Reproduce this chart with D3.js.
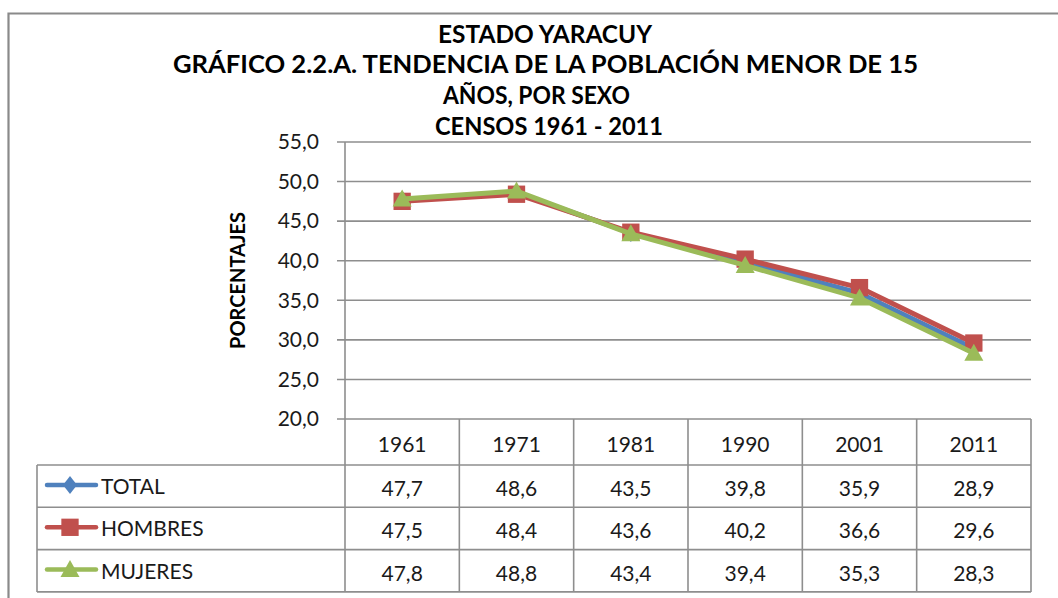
<!DOCTYPE html>
<html>
<head>
<meta charset="utf-8">
<script src="https://cdn.jsdelivr.net/npm/d3@7"></script>
<style>
  body { margin: 0; background: #fff; }
  svg { display: block; font-family: Lato, "Open Sans", sans-serif; }
</style>
</head>
<body>
<svg id="chart" width="1058" height="598"></svg>
<script>
var years = ['1961', '1971', '1981', '1990', '2001', '2011'];
var total = [47.7, 48.6, 43.5, 39.8, 35.9, 28.9];
var hombres = [47.5, 48.4, 43.6, 40.2, 36.6, 29.6];
var mujeres = [47.8, 48.8, 43.4, 39.4, 35.3, 28.3];
var yTicks = [20, 25, 30, 35, 40, 45, 50, 55];
var titleLines = ['ESTADO YARACUY', 'GRÁFICO 2.2.A. TENDENCIA  DE LA POBLACIÓN MENOR DE 15', 'AÑOS, POR SEXO', 'CENSOS 1961  - 2011'];

var series = [
	{ name: 'TOTAL', values: total, color: '#4F81BD', marker: 'diamond' },
	{ name: 'HOMBRES', values: hombres, color: '#C0504D', marker: 'square' },
	{ name: 'MUJERES', values: mujeres, color: '#9BBB59', marker: 'triangle' },
];

var locale = d3.formatLocale({ decimal: ',', thousands: '.', grouping: [3], currency: ['', ''] });
var fmt = locale.format('.1f');

var svg = d3.select('#chart');
var gridColor = '#8e8e8e';
var textColor = '#1a1a1a';

var plotLeft = 345, plotRight = 1031, plotTop = 142, plotBottom = 419;
var tableLeft = 37, rowH = 42.3, headerH = 46;
var tableBottom = plotBottom + headerH + rowH * 3;

var x = d3.scaleBand().domain(years).range([plotLeft, plotRight]);
var y = d3.scaleLinear().domain([20, 55]).range([plotBottom, plotTop]);
var cx = (d) => x(d) + x.bandwidth() / 2;

// outer frame
svg.append('path')
	.attr('d', 'M8.5,600 V13.5 H1060')
	.attr('fill', 'none')
	.attr('stroke', '#8a8a8a')
	.attr('stroke-width', 2.2);

var titlePos = [
	{ x: 438, w: 214, y: 43 },
	{ x: 173, w: 745, y: 73 },
	{ x: 443, w: 187, y: 104 },
	{ x: 435, w: 228, y: 135 },
];
svg.append('g').selectAll('text')
	.data(titleLines)
	.join('text')
	.attr('x', (d, i) => titlePos[i].x)
	.attr('y', (d, i) => titlePos[i].y)
	.attr('textLength', (d, i) => titlePos[i].w)
	.attr('lengthAdjust', 'spacingAndGlyphs')
	.style('font-weight', 'bold')
	.style('font-size', '25px')
	.attr('fill', '#000')
	.text(d => d);

// gridlines
svg.append('g').selectAll('line')
	.data(yTicks)
	.join('line')
	.attr('x1', plotLeft - 8)
	.attr('x2', plotRight)
	.attr('y1', d => y(d))
	.attr('y2', d => y(d))
	.attr('stroke', gridColor)
	.attr('stroke-width', 1.6);

// y axis labels
var yAxis = d3.axisLeft(y).tickValues(yTicks).tickFormat(fmt).tickSize(8).tickPadding(18);
svg.append('g')
	.attr('transform', 'translate(' + plotLeft + ',0)')
	.call(yAxis)
	.call(g => g.select('.domain').remove())
	.call(g => g.selectAll('.tick line').remove())
	.call(g => g.selectAll('text').style('font-size', '21px').style('font-family', 'Lato').attr('fill', textColor));

svg.append('line')
	.attr('x1', plotLeft).attr('x2', plotLeft)
	.attr('y1', plotTop).attr('y2', tableBottom)
	.attr('stroke', gridColor).attr('stroke-width', 1.6);

svg.append('text')
	.attr('transform', 'translate(245,' + ((plotTop + plotBottom) / 2) + ') rotate(-90)')
	.attr('text-anchor', 'middle')
	.style('font-weight', 'bold')
	.style('font-size', '20px')
	.attr('fill', '#000')
	.text('PORCENTAJES');

// data table
var tbl = svg.append('g');
tbl.selectAll('line.col')
	.data(years)
	.join('line')
	.attr('class', 'col')
	.attr('x1', d => x(d) + x.bandwidth())
	.attr('x2', d => x(d) + x.bandwidth())
	.attr('y1', plotBottom)
	.attr('y2', tableBottom)
	.attr('stroke', gridColor).attr('stroke-width', 1.6);
tbl.selectAll('line.row')
	.data([0, 1, 2, 3])
	.join('line')
	.attr('class', 'row')
	.attr('x1', tableLeft)
	.attr('x2', plotRight)
	.attr('y1', d => plotBottom + headerH + d * rowH)
	.attr('y2', d => plotBottom + headerH + d * rowH)
	.attr('stroke', gridColor).attr('stroke-width', 1.6);
tbl.append('line')
	.attr('x1', tableLeft).attr('x2', tableLeft)
	.attr('y1', plotBottom + headerH).attr('y2', tableBottom)
	.attr('stroke', gridColor).attr('stroke-width', 1.6);

tbl.selectAll('text.year')
	.data(years)
	.join('text')
	.attr('class', 'year')
	.attr('x', cx)
	.attr('y', plotBottom + 33)
	.attr('text-anchor', 'middle')
	.style('font-size', '21px')
	.attr('fill', textColor)
	.text(d => d);

function markerPath(type) {
	if (type === 'diamond') return 'M0,-9L7,0L0,9L-7,0Z';
	if (type === 'square') return d3.symbol(d3.symbolSquare, 300)();
	return 'M0,-9.5L9.5,7.5L-9.5,7.5Z';
}

series.forEach(function (s, si) {
	var rowY = plotBottom + headerH + si * rowH;
	var row = tbl.append('g');
	row.selectAll('text')
		.data(s.values)
		.join('text')
		.attr('x', (d, i) => cx(years[i]))
		.attr('y', rowY + 31)
		.attr('text-anchor', 'middle')
		.style('font-size', '21px')
		.attr('fill', textColor)
		.text(d => fmt(d));
	// legend key
	row.append('line')
		.attr('x1', 47).attr('x2', 96)
		.attr('y1', rowY + 20).attr('y2', rowY + 20)
		.attr('stroke', s.color).attr('stroke-width', 4.5).attr('stroke-linecap', 'round');
	row.append('path')
		.attr('d', markerPath(s.marker))
		.attr('transform', 'translate(70,' + (rowY + 20) + ')')
		.attr('fill', s.color);
	row.append('text')
		.attr('x', 101)
		.attr('y', rowY + 29)
		.style('font-size', '21px')
		.attr('fill', textColor)
		.text(s.name);
});

// series lines and markers
var line = d3.line()
	.x((d, i) => cx(years[i]))
	.y(d => y(d));

series.forEach(function (s) {
	var g = svg.append('g');
	g.append('path')
		.datum(s.values)
		.attr('d', line)
		.attr('fill', 'none')
		.attr('stroke', s.color)
		.attr('stroke-width', 5)
		.attr('stroke-linejoin', 'round');
	g.selectAll('path.mk')
		.data(s.values)
		.join('path')
		.attr('class', 'mk')
		.attr('d', markerPath(s.marker))
		.attr('transform', (d, i) => 'translate(' + cx(years[i]) + ',' + y(d) + ')')
		.attr('fill', s.color);
});
</script>
</body>
</html>
